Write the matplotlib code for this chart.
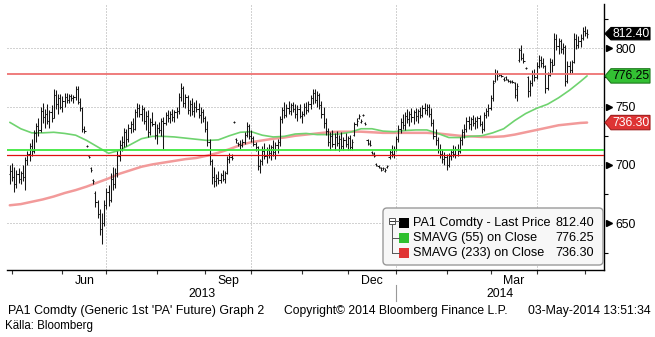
import numpy as np
import pandas as pd
import matplotlib
matplotlib.use("Agg")
import matplotlib.pyplot as plt
from matplotlib.collections import LineCollection
from matplotlib.patches import Polygon, FancyBboxPatch, Rectangle
from matplotlib.lines import Line2D
from matplotlib.transforms import IdentityTransform, blended_transform_factory

plt.rcParams["font.family"] = ["Liberation Sans", "DejaVu Sans"]

# ---------------------------------------------------------------- data
dates = pd.bdate_range("2013-04-30", "2014-05-02")

opens = [
    692,
    695, 690, 684, 692, 688, 693, 690, 704, 709, 716,
    712, 727, 733, 730, 746, 741, 744, 738, 745, 740,
    760, 752, 757, 750, 755, 758, 756, 759, 757, 758,
    765, 754, 749, 731, 716, 708, 697, 687, 676, 668,
    658, 645, 650, 666, 677, 670, 688, 684, 693, 708,
    717, 720, 728, 722, 732, 735, 731, 745, 749, 744,
    748, 738, 742, 728, 737, 735, 726, 732, 730, 738,
    736, 743, 740, 744, 741, 745, 746, 758, 766, 753,
    758, 747, 752, 746, 750, 748, 743, 745, 740, 731,
    720, 703, 690, 686, 689, 687, 691, 688, 693, 705,
    707, 737, 722, 719, 718, 717, 720, 726, 733, 725,
    723, 718, 715, 699, 703, 712, 708, 713, 710, 715,
    711, 717, 720, 739, 747, 743, 749, 746, 751, 748,
    744, 748, 742, 744, 750, 747, 752, 757, 762, 756,
    760, 751, 744, 736, 729, 720, 725, 718, 724, 719,
    722, 716, 721, 718, 723, 715, 726, 735, 740, 737,
    743, 736, 721, 719, 711, 709, 701, 699, 697, 697,
    695, 698, 707, 711, 709, 714, 722, 731, 737, 734,
    742, 739, 744, 741, 745, 742, 746, 743, 749, 747,
    750, 744, 736, 725, 721, 713, 709, 705, 707, 700,
    708, 711, 709, 714, 712, 721, 728, 731, 738, 735,
    739, 736, 738, 740, 735, 731, 743, 746, 749, 757,
    772, 779, 778, 777, 774, 775, 773, 772, 772, 770,
    765, 790, 798, 792, 783, 775, 763, 770, 778, 775,
    785, 790, 787, 785, 766, 777, 788, 786, 808, 802,
    806, 799, 801, 772, 785, 781, 788, 808, 803, 806,
    809, 815, 813,
]
highs = [
    700,
    702, 698, 696, 697, 695, 700, 707, 712, 719, 722,
    730, 736, 740, 750, 753, 748, 752, 747, 751, 765,
    764, 761, 761, 759, 762, 762, 761, 761, 760, 768,
    768, 757, 750, 733, 717, 708, 698, 688, 678, 670,
    662, 659, 670, 680, 683, 693, 698, 697, 712, 721,
    725, 732, 731, 735, 738, 740, 748, 753, 752, 751,
    750, 746, 747, 740, 745, 738, 735, 737, 740, 741,
    745, 747, 746, 748, 747, 750, 762, 770, 768, 761,
    760, 756, 757, 754, 756, 753, 750, 748, 742, 738,
    722, 705, 698, 692, 695, 693, 696, 695, 708, 710,
    709, 738, 723, 720, 721, 722, 728, 737, 735, 730,
    725, 720, 716, 705, 716, 719, 715, 718, 717, 721,
    720, 722, 742, 750, 754, 752, 755, 753, 754, 752,
    751, 752, 746, 753, 754, 755, 760, 765, 765, 763,
    762, 755, 750, 740, 732, 728, 730, 727, 729, 726,
    728, 724, 727, 725, 726, 722, 737, 740, 744, 739,
    744, 737, 722, 721, 712, 711, 702, 700, 698, 698,
    697, 700, 713, 717, 716, 725, 734, 740, 744, 745,
    748, 746, 749, 747, 749, 748, 750, 751, 753, 752,
    752, 749, 739, 731, 724, 718, 714, 711, 709, 710,
    714, 717, 716, 718, 724, 731, 735, 741, 742, 741,
    743, 741, 742, 743, 738, 745, 749, 752, 760, 773,
    782, 781, 779, 778, 775, 776, 774, 773, 773, 771,
    770, 800, 803, 796, 784, 776, 773, 781, 782, 788,
    794, 793, 792, 786, 780, 792, 791, 813, 812, 809,
    808, 804, 803, 789, 789, 790, 813, 812, 810, 812,
    818, 819, 816,
]
lows = [
    684,
    686, 677, 680, 685, 684, 686, 679, 700, 703, 708,
    710, 720, 725, 728, 736, 732, 735, 732, 737, 740,
    748, 744, 748, 745, 750, 753, 753, 755, 753, 756,
    752, 746, 728, 727, 715, 706, 694, 684, 664, 655,
    640, 632, 648, 662, 665, 668, 679, 680, 690, 703,
    712, 715, 716, 720, 727, 728, 730, 741, 741, 738,
    735, 730, 724, 726, 733, 722, 718, 727, 725, 714,
    734, 737, 736, 738, 737, 740, 744, 755, 750, 749,
    744, 742, 743, 741, 745, 740, 736, 737, 728, 716,
    700, 684, 681, 682, 684, 685, 686, 685, 692, 702,
    704, 736, 719, 716, 714, 715, 718, 724, 722, 720,
    716, 712, 696, 693, 700, 705, 702, 706, 704, 708,
    705, 710, 716, 736, 740, 741, 744, 743, 745, 740,
    738, 740, 736, 742, 744, 745, 748, 752, 753, 750,
    748, 740, 732, 726, 716, 713, 715, 713, 716, 712,
    714, 713, 715, 713, 713, 713, 725, 733, 739, 736,
    742, 734, 717, 716, 709, 707, 699, 697, 695, 696,
    694, 697, 705, 707, 706, 712, 720, 727, 731, 730,
    736, 733, 737, 735, 738, 736, 740, 741, 744, 743,
    741, 733, 722, 717, 710, 706, 702, 700, 696, 698,
    704, 707, 706, 708, 710, 717, 723, 728, 731, 730,
    733, 731, 732, 733, 727, 729, 740, 742, 747, 755,
    771, 773, 776, 775, 772, 773, 771, 770, 770, 757,
    755, 788, 790, 787, 782, 758, 759, 768, 772, 774,
    783, 784, 783, 762, 764, 776, 780, 786, 798, 795,
    796, 795, 768, 770, 778, 779, 787, 799, 800, 801,
    807, 810, 809,
]
closes = [
    695,
    690, 684, 692, 688, 693, 690, 704, 709, 716, 712,
    727, 733, 730, 746, 741, 744, 738, 745, 740, 760,
    752, 757, 750, 755, 758, 756, 759, 757, 758, 765,
    754, 749, 731, 729, 716, 707, 696, 686, 668, 658,
    645, 650, 666, 677, 670, 688, 684, 693, 708, 717,
    720, 728, 722, 732, 735, 731, 745, 749, 744, 748,
    738, 742, 728, 737, 735, 726, 732, 730, 738, 736,
    743, 740, 744, 741, 745, 746, 758, 766, 753, 758,
    747, 752, 746, 750, 748, 743, 745, 740, 731, 720,
    703, 690, 686, 689, 687, 691, 688, 693, 705, 707,
    706, 737, 721, 718, 717, 720, 726, 733, 725, 723,
    718, 715, 699, 703, 712, 708, 713, 710, 715, 711,
    717, 720, 739, 747, 743, 749, 746, 751, 748, 744,
    748, 742, 744, 750, 747, 752, 757, 762, 756, 760,
    751, 744, 736, 729, 720, 725, 718, 724, 719, 722,
    716, 721, 718, 723, 715, 720, 735, 738, 742, 738,
    743, 735, 718, 717, 710, 708, 700, 698, 696, 697,
    696, 699, 711, 709, 714, 722, 731, 737, 734, 742,
    739, 744, 741, 745, 742, 746, 743, 749, 747, 750,
    744, 736, 725, 721, 713, 709, 705, 707, 700, 708,
    711, 709, 714, 712, 721, 728, 731, 738, 735, 739,
    736, 738, 740, 735, 731, 743, 746, 749, 757, 770,
    779, 776, 777, 776, 773, 774, 772, 771, 771, 760,
    768, 798, 792, 789, 783, 763, 770, 778, 775, 785,
    790, 787, 785, 766, 777, 788, 786, 808, 802, 806,
    799, 801, 772, 785, 781, 788, 808, 803, 806, 809,
    815, 813, 812.40,
]

# moving averages sampled every 5 sessions, plus the final session
sma_step = 5
sma55 = [
    736.5, 731, 727.5, 727.5, 728, 727, 725.5, 721, 715.5, 710,
    712.5, 717.5, 722.5, 724.5, 724.5, 724, 723, 722, 721, 721.5,
    725, 728, 728.5, 725.5, 724, 724.5, 726.5, 727, 726, 726,
    726.5, 728, 731, 731, 729, 728.5, 729.5, 730, 730, 727,
    723.5, 723.5, 724.5, 725, 727.5, 731, 738, 744, 748.5, 752,
    757.5, 764, 771.5, 776.25,
]
sma233 = [
    665.5, 666.5, 668.5, 670.5, 673, 676, 678.5, 681.5, 685, 688.5,
    692.5, 695.5, 698.5, 700.5, 702, 703.5, 705, 706, 708, 710.5,
    713.5, 717, 719.5, 721, 722.5, 723.5, 725, 726, 727, 728,
    728.5, 728.5, 728.5, 728, 727.5, 727.5, 727.5, 727.5, 727.5, 727,
    726, 725, 724.5, 724, 724, 724.5, 726, 728, 730, 732,
    734, 735, 736, 736.30,
]

level_upper = 778.0
level_green = 712.5
level_lower = 708.5

last_price = 812.40
last_sma55 = 776.25
last_sma233 = 736.30

price_ticks = [650, 700, 750, 800]
price_minor = [625, 675, 725, 775, 825]
month_labels = {6: "Jun", 9: "Sep", 12: "Dec", 3: "Mar"}
grid_months = [7, 10, 1, 4]

legend_rows = [
    ("PA1 Comdty - Last Price", f"{last_price:.2f}", "#000000"),
    ("SMAVG (55) on Close", f"{last_sma55:.2f}", "#2fc02f"),
    ("SMAVG (233) on Close", f"{last_sma233:.2f}", "#e03434"),
]

# ---------------------------------------------------------------- figure
W, H = 655, 337
fig = plt.figure(figsize=(W / 100, H / 100), dpi=100)
ax_l, ax_r, ax_t, ax_b = 7, 604, 4, 270
ax = fig.add_axes([ax_l / W, 1 - ax_b / H, (ax_r - ax_l) / W, (ax_b - ax_t) / H])

n = len(dates)
pos = np.arange(n)
x_left = 1 + (ax_l - 12) / 2.195
x_right = 1 + (ax_r - 12) / 2.195
ax.set_xlim(x_left, x_right)
ax.set_ylim(610.1, 837.8)

for s in ("left", "top"):
    ax.spines[s].set_visible(False)
ax.spines["bottom"].set_linewidth(1.0)
ax.spines["right"].set_linewidth(1.0)

# month boundaries
month_starts = pd.date_range("2013-05-01", "2014-06-01", freq="MS")
mpos = [dates.searchsorted(m) for m in month_starts]
tick_pos = [p for p in mpos if p < n]
ax.set_xticks(tick_pos)
ax.set_xticklabels([])
ax.tick_params(axis="x", which="major", direction="out", length=3, width=0.8,
               color="#333333")

lab_pos, lab_txt = [], []
for i in range(len(month_starts) - 1):
    m = month_starts[i].month
    if m in month_labels:
        lab_pos.append((mpos[i] + min(mpos[i + 1], n)) / 2)
        lab_txt.append(month_labels[m])
ax.set_xticks(lab_pos, minor=True)
ax.set_xticklabels(lab_txt, minor=True, fontsize=8.8)
ax.tick_params(axis="x", which="minor", length=0, pad=3.5)

# grid
dot = (0, (1, 2))
for p in price_ticks:
    ax.axhline(p, color="#a6a6a6", lw=0.72, ls=dot, zorder=1)
for m, p in zip(month_starts, mpos):
    if m.month in grid_months and p < n:
        ax.axvline(p, color="#a6a6a6", lw=0.72, ls=dot, zorder=1)

# price axis on the right
ax.yaxis.tick_right()
ax.set_yticks(price_ticks)
ax.set_yticklabels([str(t) for t in price_ticks], fontsize=8.8)
ax.set_yticks(price_minor, minor=True)
ax.tick_params(axis="y", which="major", length=0, pad=8)
ax.tick_params(axis="y", which="minor", direction="out", length=3, width=0.8)
tri = blended_transform_factory(ax.transAxes, ax.transData)
ax.plot([1 + 4.5 / (ax_r - ax_l)] * len(price_ticks), price_ticks, ls="none",
        marker=">", ms=4.2, color="black", transform=tri, clip_on=False)

# moving averages
sma_x = list(pos[::sma_step]) + [pos[-1]]
ax.plot(sma_x, sma233, color="#f29a9a", lw=1.8, zorder=2, solid_capstyle="round")
ax.plot(sma_x, sma55, color="#6fd36f", lw=1.2, zorder=2, solid_capstyle="round")

# OHLC bars
segs = []
for i in range(n):
    segs.append([(pos[i], lows[i]), (pos[i], highs[i])])
    segs.append([(pos[i] - 0.5, opens[i]), (pos[i], opens[i])])
    segs.append([(pos[i], closes[i]), (pos[i] + 0.5, closes[i])])
ax.add_collection(LineCollection(segs, colors="#151515", linewidths=0.75, zorder=3))

# horizontal levels
ax.axhline(level_upper, color="#ee7272", lw=1.3, zorder=4)
ax.axhline(level_green, color="#3fe83f", lw=1.3, zorder=4)
ax.axhline(level_lower, color="#e01010", lw=0.9, zorder=4)


# ---------------------------------------------------------------- overlays
def img_y(v):
    """Display y (pixels from bottom) of a price value."""
    return ax.transData.transform((0, v))[1]


def price_tag(v, face, edge, txt_color, half):
    yc = img_y(v)
    x0, x1, x2 = 605, 611, 650
    pts = [(x0, yc), (x1, yc + half), (x2, yc + half), (x2, yc - half), (x1, yc - half)]
    fig.add_artist(Polygon(pts, closed=True, facecolor=face, edgecolor=edge, lw=0.8,
                           transform=IdentityTransform()))
    fig.text((x1 + x2) / 2 / W + 0.5 / W, yc / H, f"{v:.2f}", ha="center", va="center",
             fontsize=8.8, color=txt_color)


price_tag(last_price, "#000000", "#000000", "white", 6.2)
price_tag(last_sma55, "#33c033", "#1e7a1e", "black", 7.2)
price_tag(last_sma233, "#de3434", "#a01e1e", "white", 7.2)

# legend panel
lx0, lx1, ly0, ly1 = 383, 603, 208, 265
fig.add_artist(FancyBboxPatch((lx0, H - ly1), lx1 - lx0, ly1 - ly0,
                              boxstyle="round,pad=0,rounding_size=4",
                              facecolor="#f7f7f7", edgecolor="#9a9a9a", lw=1.0,
                              transform=IdentityTransform()))
row_y = [223, 238, 253]
tree_x = 392
fig.add_artist(Rectangle((tree_x - 3, H - 224), 6, 6, facecolor="white",
                         edgecolor="#555555", lw=0.7, transform=IdentityTransform()))
fig.add_artist(Line2D([tree_x - 1.8, tree_x + 1.8], [H - 221, H - 221], color="#333333",
                      lw=0.7, transform=IdentityTransform()))
fig.add_artist(Line2D([tree_x, tree_x], [H - 224, H - row_y[2]], color="#555555",
                      lw=0.7, transform=IdentityTransform()))
fig.add_artist(Line2D([tree_x + 3, 399], [H - 221, H - 221], color="#555555",
                      lw=0.7, transform=IdentityTransform()))
for ry in row_y[1:]:
    fig.add_artist(Line2D([tree_x, 399], [H - ry, H - ry], color="#555555",
                          lw=0.7, transform=IdentityTransform()))
for (label, value, col), ry in zip(legend_rows, row_y):
    fig.add_artist(Rectangle((399, H - ry - 5), 10, 10, facecolor=col, edgecolor="none",
                             transform=IdentityTransform()))
    fig.text(413 / W, (H - ry) / H, label, ha="left", va="center", fontsize=9.1)
    fig.text(594 / W, (H - ry) / H, value, ha="right", va="center", fontsize=9.1)

# year labels and divider
jan_pos = dates.searchsorted(pd.Timestamp("2014-01-01"))
jan_px = ax.transData.transform((jan_pos, 0))[0]
fig.text((ax_l + jan_px) / 2 / W, 1 - 294 / H, "2013", ha="center", va="center",
         fontsize=8.8)
fig.text((jan_px + ax_r) / 2 / W, 1 - 294 / H, "2014", ha="center", va="center",
         fontsize=8.8)
fig.add_artist(Line2D([jan_px, jan_px], [H - 285, H - 301], color="#999999", lw=0.8,
                      transform=IdentityTransform()))

# footer
fy = 1 - 311 / H
fig.text(8 / W, fy, "PA1 Comdty (Generic 1st 'PA' Future) Graph 2", ha="left",
         va="center", fontsize=8.9)
fig.text(284 / W, fy, "Copyright\u00a9 2014 Bloomberg Finance L.P.", ha="left",
         va="center", fontsize=8.7)
fig.text(651 / W, fy, "03-May-2014 13:51:34", ha="right", va="center", fontsize=8.8)
fig.text(5 / W, 1 - 326 / H, "Källa: Bloomberg", ha="left", va="center",
         fontsize=8.3, family=["Liberation Sans Narrow", "Liberation Sans"])

fig.savefig("out.png", dpi=100)
